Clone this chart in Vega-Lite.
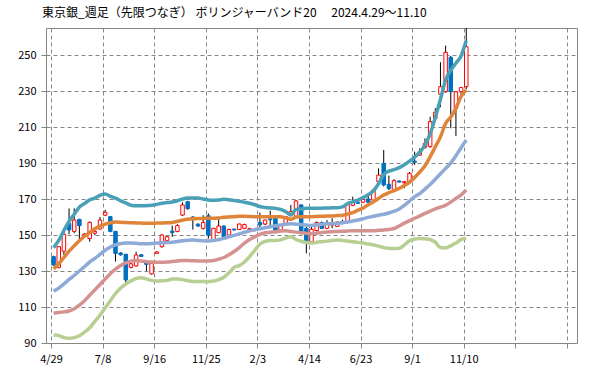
{
  "$schema": "https://vega.github.io/schema/vega-lite/v6.json",
  "width": 531,
  "height": 315,
  "autosize": {"type": "none"},
  "padding": {"left": 46, "top": 28, "right": 22, "bottom": 27},
  "background": "white",
  "title": {
    "text": "東京銀_週足（先限つなぎ） ボリンジャーバンド20　 2024.4.29～11.10",
    "anchor": "start",
    "frame": "group",
    "font": "Noto Sans CJK JP",
    "fontSize": 12,
    "fontWeight": "normal",
    "color": "#000000",
    "offset": 8,
    "dx": -4
  },
  "config": {
    "view": {"stroke": "#868686", "strokeWidth": 1},
    "axis": {
      "grid": true,
      "gridColor": "#868686",
      "gridDash": [4, 3],
      "gridWidth": 1,
      "domain": false,
      "ticks": true,
      "tickColor": "#868686",
      "tickSize": 5,
      "labelFont": "Noto Sans CJK JP",
      "labelFontSize": 11,
      "labelColor": "#000000",
      "labelPadding": 5
    }
  },
  "data": {
    "values": [
      {"w":0,"open":138,"high":138.5,"low":133,"close":133.3,"up2":143,"up1":131.2,"ma":118.8,"dn1":106.5,"dn2":94.4},
      {"w":1,"open":132,"high":143.5,"low":131.5,"close":143.5,"up2":147,"up1":134,"ma":120.5,"dn1":107,"dn2":94.2},
      {"w":2,"open":141,"high":151.5,"low":139,"close":150.4,"up2":152.5,"up1":137.5,"ma":122.8,"dn1":107.3,"dn2":93},
      {"w":3,"open":156.5,"high":164.8,"low":150.4,"close":152.8,"up2":157.5,"up1":141,"ma":125.3,"dn1":107.8,"dn2":92.6},
      {"w":4,"open":152,"high":164.8,"low":151,"close":158.3,"up2":161.5,"up1":144,"ma":127.5,"dn1":109,"dn2":93},
      {"w":5,"open":158.7,"high":159,"low":147.2,"close":155.2,"up2":165.5,"up1":146.8,"ma":130,"dn1":111,"dn2":94},
      {"w":6,"open":150,"high":151,"low":149,"close":150.5,"up2":167.5,"up1":149.3,"ma":132.5,"dn1":113.5,"dn2":96},
      {"w":7,"open":148,"high":157.5,"low":146.3,"close":157,"up2":169.5,"up1":151.5,"ma":135,"dn1":116.5,"dn2":98.5},
      {"w":8,"open":151,"high":153,"low":150,"close":152,"up2":170.5,"up1":153.5,"ma":137,"dn1":119.5,"dn2":102},
      {"w":9,"open":153.3,"high":160,"low":153,"close":158.3,"up2":172,"up1":155,"ma":139.3,"dn1":122.5,"dn2":105.5},
      {"w":10,"open":161,"high":164,"low":160.5,"close":162.6,"up2":172.8,"up1":156,"ma":141.5,"dn1":125.5,"dn2":109.5},
      {"w":11,"open":160.2,"high":160.5,"low":151.5,"close":152,"up2":171.5,"up1":156.8,"ma":143.3,"dn1":128.5,"dn2":113.5},
      {"w":12,"open":152,"high":152.3,"low":135.2,"close":139.8,"up2":170.5,"up1":157.2,"ma":144.6,"dn1":131,"dn2":117.5},
      {"w":13,"open":140,"high":140.5,"low":138.5,"close":139,"up2":169,"up1":157.1,"ma":145.2,"dn1":133,"dn2":120.5},
      {"w":14,"open":139.3,"high":139.5,"low":123,"close":125,"up2":167.8,"up1":156.9,"ma":145.5,"dn1":134.5,"dn2":122.8},
      {"w":15,"open":132,"high":134.5,"low":131.5,"close":134,"up2":166.5,"up1":156.8,"ma":145.6,"dn1":135.5,"dn2":124.5},
      {"w":16,"open":132.8,"high":140.7,"low":132.5,"close":138.9,"up2":166.2,"up1":156.7,"ma":145.4,"dn1":135.8,"dn2":125.8},
      {"w":17,"open":139,"high":139.3,"low":138,"close":138.1,"up2":166.2,"up1":156.6,"ma":145.2,"dn1":135.6,"dn2":126.2},
      {"w":18,"open":134.6,"high":135,"low":130,"close":133.7,"up2":166.3,"up1":156.5,"ma":145.2,"dn1":135.2,"dn2":125.6},
      {"w":19,"open":128.4,"high":134.5,"low":128,"close":134.3,"up2":166.5,"up1":156.5,"ma":145.3,"dn1":135,"dn2":124.8},
      {"w":20,"open":139.8,"high":141,"low":139.8,"close":140.6,"up2":167,"up1":156.6,"ma":145.5,"dn1":134.9,"dn2":124.5},
      {"w":21,"open":143.5,"high":150.5,"low":143,"close":150,"up2":167.6,"up1":156.7,"ma":145.7,"dn1":134.9,"dn2":124.6},
      {"w":22,"open":147,"high":149.5,"low":146.5,"close":149,"up2":168,"up1":156.8,"ma":145.8,"dn1":135,"dn2":124.8},
      {"w":23,"open":152.2,"high":155.2,"low":149,"close":151.3,"up2":168.3,"up1":157,"ma":146,"dn1":135.3,"dn2":125.5},
      {"w":24,"open":152,"high":156,"low":151.5,"close":155.2,"up2":169,"up1":157.6,"ma":146.4,"dn1":135.6,"dn2":125.5},
      {"w":25,"open":161.1,"high":168.1,"low":160.5,"close":166.7,"up2":170,"up1":158.2,"ma":146.8,"dn1":135.8,"dn2":125.2},
      {"w":26,"open":168.5,"high":169,"low":164,"close":164.6,"up2":170.5,"up1":158.7,"ma":147.1,"dn1":135.8,"dn2":124.6},
      {"w":27,"open":160,"high":160.5,"low":153,"close":159.5,"up2":170.5,"up1":159,"ma":147.2,"dn1":135.7,"dn2":124.2},
      {"w":28,"open":156,"high":156.5,"low":154.5,"close":155,"up2":170.5,"up1":159.2,"ma":147,"dn1":135.6,"dn2":124.1},
      {"w":29,"open":153.7,"high":161,"low":153,"close":157,"up2":170,"up1":159.2,"ma":146.8,"dn1":135.6,"dn2":124.1},
      {"w":30,"open":160.7,"high":162,"low":148,"close":150,"up2":169.5,"up1":159.3,"ma":146.7,"dn1":135.6,"dn2":124.2},
      {"w":31,"open":147.5,"high":154,"low":147,"close":153.7,"up2":169.3,"up1":159.3,"ma":146.9,"dn1":135.8,"dn2":124.4},
      {"w":32,"open":151.3,"high":159.3,"low":151,"close":155,"up2":169.5,"up1":159.5,"ma":147.5,"dn1":136.6,"dn2":125.2},
      {"w":33,"open":155,"high":155.3,"low":148.5,"close":149.1,"up2":169.8,"up1":159.8,"ma":148.1,"dn1":137.5,"dn2":126.5},
      {"w":34,"open":150,"high":153.5,"low":149.5,"close":153.1,"up2":169.6,"up1":160,"ma":149,"dn1":139,"dn2":129},
      {"w":35,"open":153.3,"high":153.6,"low":152.5,"close":152.8,"up2":169.2,"up1":160.2,"ma":149.8,"dn1":140.8,"dn2":132},
      {"w":36,"open":153.1,"high":156.3,"low":152.8,"close":156.1,"up2":168.8,"up1":160.4,"ma":150.6,"dn1":143,"dn2":133},
      {"w":37,"open":153.7,"high":156.3,"low":153.3,"close":155.8,"up2":168.2,"up1":160.4,"ma":151.5,"dn1":145.5,"dn2":135},
      {"w":38,"open":153,"high":154,"low":152,"close":153.5,"up2":167.6,"up1":160.3,"ma":152.3,"dn1":147.5,"dn2":138},
      {"w":39,"open":152.5,"high":153.5,"low":152,"close":152.8,"up2":166.8,"up1":160.2,"ma":153,"dn1":149,"dn2":141.5},
      {"w":40,"open":157,"high":162.4,"low":153.7,"close":155.6,"up2":165.8,"up1":160.2,"ma":153.5,"dn1":150.3,"dn2":145},
      {"w":41,"open":156.1,"high":158.5,"low":155.5,"close":158.3,"up2":165.3,"up1":160.2,"ma":154,"dn1":151.3,"dn2":146.5},
      {"w":42,"open":159,"high":163.5,"low":154.6,"close":158.5,"up2":165,"up1":160.2,"ma":154.6,"dn1":151.5,"dn2":147},
      {"w":43,"open":159.3,"high":160.2,"low":150.9,"close":151.9,"up2":164.8,"up1":160.2,"ma":155.1,"dn1":151.8,"dn2":147},
      {"w":44,"open":152.8,"high":155.8,"low":152.4,"close":155.6,"up2":164.2,"up1":160.2,"ma":155.5,"dn1":152.2,"dn2":147.3},
      {"w":45,"open":156.5,"high":160.5,"low":156,"close":160.2,"up2":163,"up1":159.5,"ma":156,"dn1":152.3,"dn2":148.3},
      {"w":46,"open":162,"high":166.7,"low":160.2,"close":163,"up2":161.2,"up1":158.7,"ma":156.2,"dn1":152,"dn2":149},
      {"w":47,"open":160.2,"high":169.5,"low":159.5,"close":168.9,"up2":164.2,"up1":160,"ma":156,"dn1":151.6,"dn2":147.5},
      {"w":48,"open":166.7,"high":167,"low":150.5,"close":151.2,"up2":164.5,"up1":160.2,"ma":155.8,"dn1":151.2,"dn2":146.5},
      {"w":49,"open":153.7,"high":154.5,"low":139.8,"close":146.3,"up2":164.8,"up1":160.2,"ma":155.6,"dn1":150.9,"dn2":145.8},
      {"w":50,"open":146.3,"high":155,"low":145.5,"close":153.2,"up2":164.8,"up1":160.2,"ma":155.3,"dn1":150.7,"dn2":145.5},
      {"w":51,"open":152.5,"high":157.5,"low":152,"close":156.9,"up2":164.8,"up1":160.3,"ma":155.6,"dn1":151,"dn2":146},
      {"w":52,"open":156.9,"high":157.5,"low":153.3,"close":153.7,"up2":164.9,"up1":160.4,"ma":156,"dn1":151.4,"dn2":146.3},
      {"w":53,"open":153.7,"high":158.3,"low":153.3,"close":156.5,"up2":165,"up1":160.5,"ma":156.2,"dn1":151.7,"dn2":146.6},
      {"w":54,"open":155.5,"high":159.3,"low":153.7,"close":156.3,"up2":165.1,"up1":160.6,"ma":156.3,"dn1":151.8,"dn2":147},
      {"w":55,"open":154.8,"high":157.4,"low":154.5,"close":157.2,"up2":165.2,"up1":160.8,"ma":156.5,"dn1":152,"dn2":147.2},
      {"w":56,"open":157.4,"high":158.5,"low":156,"close":156.6,"up2":165.6,"up1":161,"ma":156.8,"dn1":152.1,"dn2":147},
      {"w":57,"open":157,"high":168,"low":156.5,"close":166.8,"up2":167.5,"up1":161.6,"ma":157.2,"dn1":152.2,"dn2":146.7},
      {"w":58,"open":166.5,"high":171.3,"low":166,"close":168.5,"up2":168.4,"up1":162.4,"ma":157.8,"dn1":152.4,"dn2":146.3},
      {"w":59,"open":168.2,"high":168.6,"low":167.2,"close":167.6,"up2":169.4,"up1":163.8,"ma":158.3,"dn1":152.4,"dn2":145.9},
      {"w":60,"open":168.2,"high":170.3,"low":168,"close":169.8,"up2":170.8,"up1":165,"ma":159,"dn1":152.4,"dn2":145.5},
      {"w":61,"open":170,"high":172.2,"low":168,"close":168.2,"up2":172.4,"up1":166.8,"ma":159.8,"dn1":152.4,"dn2":145},
      {"w":62,"open":169.4,"high":175.5,"low":168.8,"close":175,"up2":174.5,"up1":168.5,"ma":160.4,"dn1":152.4,"dn2":144.5},
      {"w":63,"open":179.6,"high":187,"low":179,"close":183.3,"up2":178.5,"up1":170.3,"ma":161,"dn1":152.6,"dn2":143.8},
      {"w":64,"open":189.8,"high":197.2,"low":177,"close":177.8,"up2":183.5,"up1":172.2,"ma":161.5,"dn1":152.8,"dn2":143},
      {"w":65,"open":178.2,"high":183,"low":175,"close":175.8,"up2":185.5,"up1":173.5,"ma":162.2,"dn1":153,"dn2":142.6},
      {"w":66,"open":174.3,"high":181,"low":173.8,"close":180.2,"up2":186.3,"up1":174.7,"ma":163.2,"dn1":153.6,"dn2":142.5},
      {"w":67,"open":180,"high":180.3,"low":179.2,"close":179.4,"up2":187.4,"up1":175.9,"ma":164.5,"dn1":155,"dn2":142.6},
      {"w":68,"open":179,"high":180,"low":176,"close":179.6,"up2":189,"up1":177.5,"ma":166.5,"dn1":156.6,"dn2":144.5},
      {"w":69,"open":179.6,"high":185,"low":179,"close":184.3,"up2":191,"up1":179.3,"ma":168.8,"dn1":158,"dn2":146.8},
      {"w":70,"open":191,"high":196.3,"low":189,"close":190.4,"up2":193.3,"up1":182,"ma":171.3,"dn1":159.3,"dn2":147.8},
      {"w":71,"open":194.4,"high":198.2,"low":194,"close":196.3,"up2":196,"up1":185,"ma":173,"dn1":160.6,"dn2":148.1},
      {"w":72,"open":198.7,"high":203.7,"low":198,"close":200.9,"up2":200,"up1":188.5,"ma":175.5,"dn1":162,"dn2":147.9},
      {"w":73,"open":199.1,"high":215.7,"low":198.5,"close":213,"up2":206.2,"up1":193.5,"ma":178,"dn1":163.3,"dn2":147.5},
      {"w":74,"open":214.8,"high":220.4,"low":214,"close":218.2,"up2":215.3,"up1":199,"ma":181,"dn1":164.5,"dn2":146},
      {"w":75,"open":228.2,"high":246,"low":221,"close":232.4,"up2":225.4,"up1":204.5,"ma":184,"dn1":165.5,"dn2":143},
      {"w":76,"open":229.6,"high":255.2,"low":229,"close":251.5,"up2":236.1,"up1":212,"ma":187,"dn1":166.5,"dn2":142.8},
      {"w":77,"open":248.7,"high":249.5,"low":209.3,"close":229.6,"up2":241.5,"up1":215.5,"ma":190,"dn1":168.3,"dn2":144},
      {"w":78,"open":220.4,"high":230,"low":205,"close":229.6,"up2":245.5,"up1":220.5,"ma":194,"dn1":170.3,"dn2":145.5},
      {"w":79,"open":229.6,"high":232,"low":228,"close":231.9,"up2":249.5,"up1":227,"ma":198.5,"dn1":172.3,"dn2":147.5},
      {"w":80,"open":232.4,"high":265,"low":231,"close":254.6,"up2":258,"up1":230.5,"ma":202.8,"dn1":175,"dn2":148}
    ]
  },
  "encoding": {
    "x": {
      "field": "w",
      "type": "quantitative",
      "scale": {"domain": [-0.5, 100.5], "nice": false, "zero": false},
      "axis": {
        "title": null,
        "values": [-0.5, 9.5, 19.5, 29.5, 39.5, 49.5, 59.5, 69.5, 79.5, 89.5, 99.5],
        "labelExpr": "['4/29','7/8','9/16','11/25','2/3','4/14','6/23','9/1','11/10','',''][round((datum.value + 0.5) / 10)]",
        "labelPadding": 5,
        "labelFlush": false,
        "labelOverlap": false
      }
    }
  },
  "layer": [
    {
      "mark": {"type": "rule", "color": "#000000", "strokeWidth": 1},
      "encoding": {
        "y": {
          "field": "low",
          "type": "quantitative",
          "scale": {"domain": [90, 265], "nice": false, "zero": false},
          "axis": {"title": null, "values": [90, 110, 130, 150, 170, 190, 210, 230, 250], "labelPadding": 5}
        },
        "y2": {"field": "high"}
      }
    },
    {
      "mark": {"type": "bar", "orient": "vertical", "size": 3.5, "strokeWidth": 1},
      "encoding": {
        "y": {
          "field": "open",
          "type": "quantitative",
          "scale": {"domain": [90, 265], "nice": false, "zero": false},
          "axis": {"title": null, "values": [90, 110, 130, 150, 170, 190, 210, 230, 250], "labelPadding": 5}
        },
        "y2": {"field": "close"},
        "fill": {"condition": {"test": "datum.close >= datum.open", "value": "#ffffff"}, "value": "#0070C0"},
        "stroke": {"condition": {"test": "datum.close >= datum.open", "value": "#FF0000"}, "value": "#0070C0"}
      }
    },
    {
      "transform": [{"fold": ["dn2", "dn1", "ma", "up1", "up2"], "as": ["band", "val"]}],
      "mark": {"type": "line", "strokeWidth": 3.5, "interpolate": "monotone"},
      "encoding": {
        "y": {
          "field": "val",
          "type": "quantitative",
          "scale": {"domain": [90, 265], "nice": false, "zero": false},
          "axis": {"title": null, "values": [90, 110, 130, 150, 170, 190, 210, 230, 250], "labelPadding": 5}
        },
        "color": {
          "field": "band",
          "type": "nominal",
          "scale": {
            "domain": ["dn2", "dn1", "ma", "up1", "up2"],
            "range": ["#B7CF92", "#D49291", "#8EAAD6", "#E0843A", "#4AA0B6"]
          },
          "legend": null
        }
      }
    }
  ]
}
